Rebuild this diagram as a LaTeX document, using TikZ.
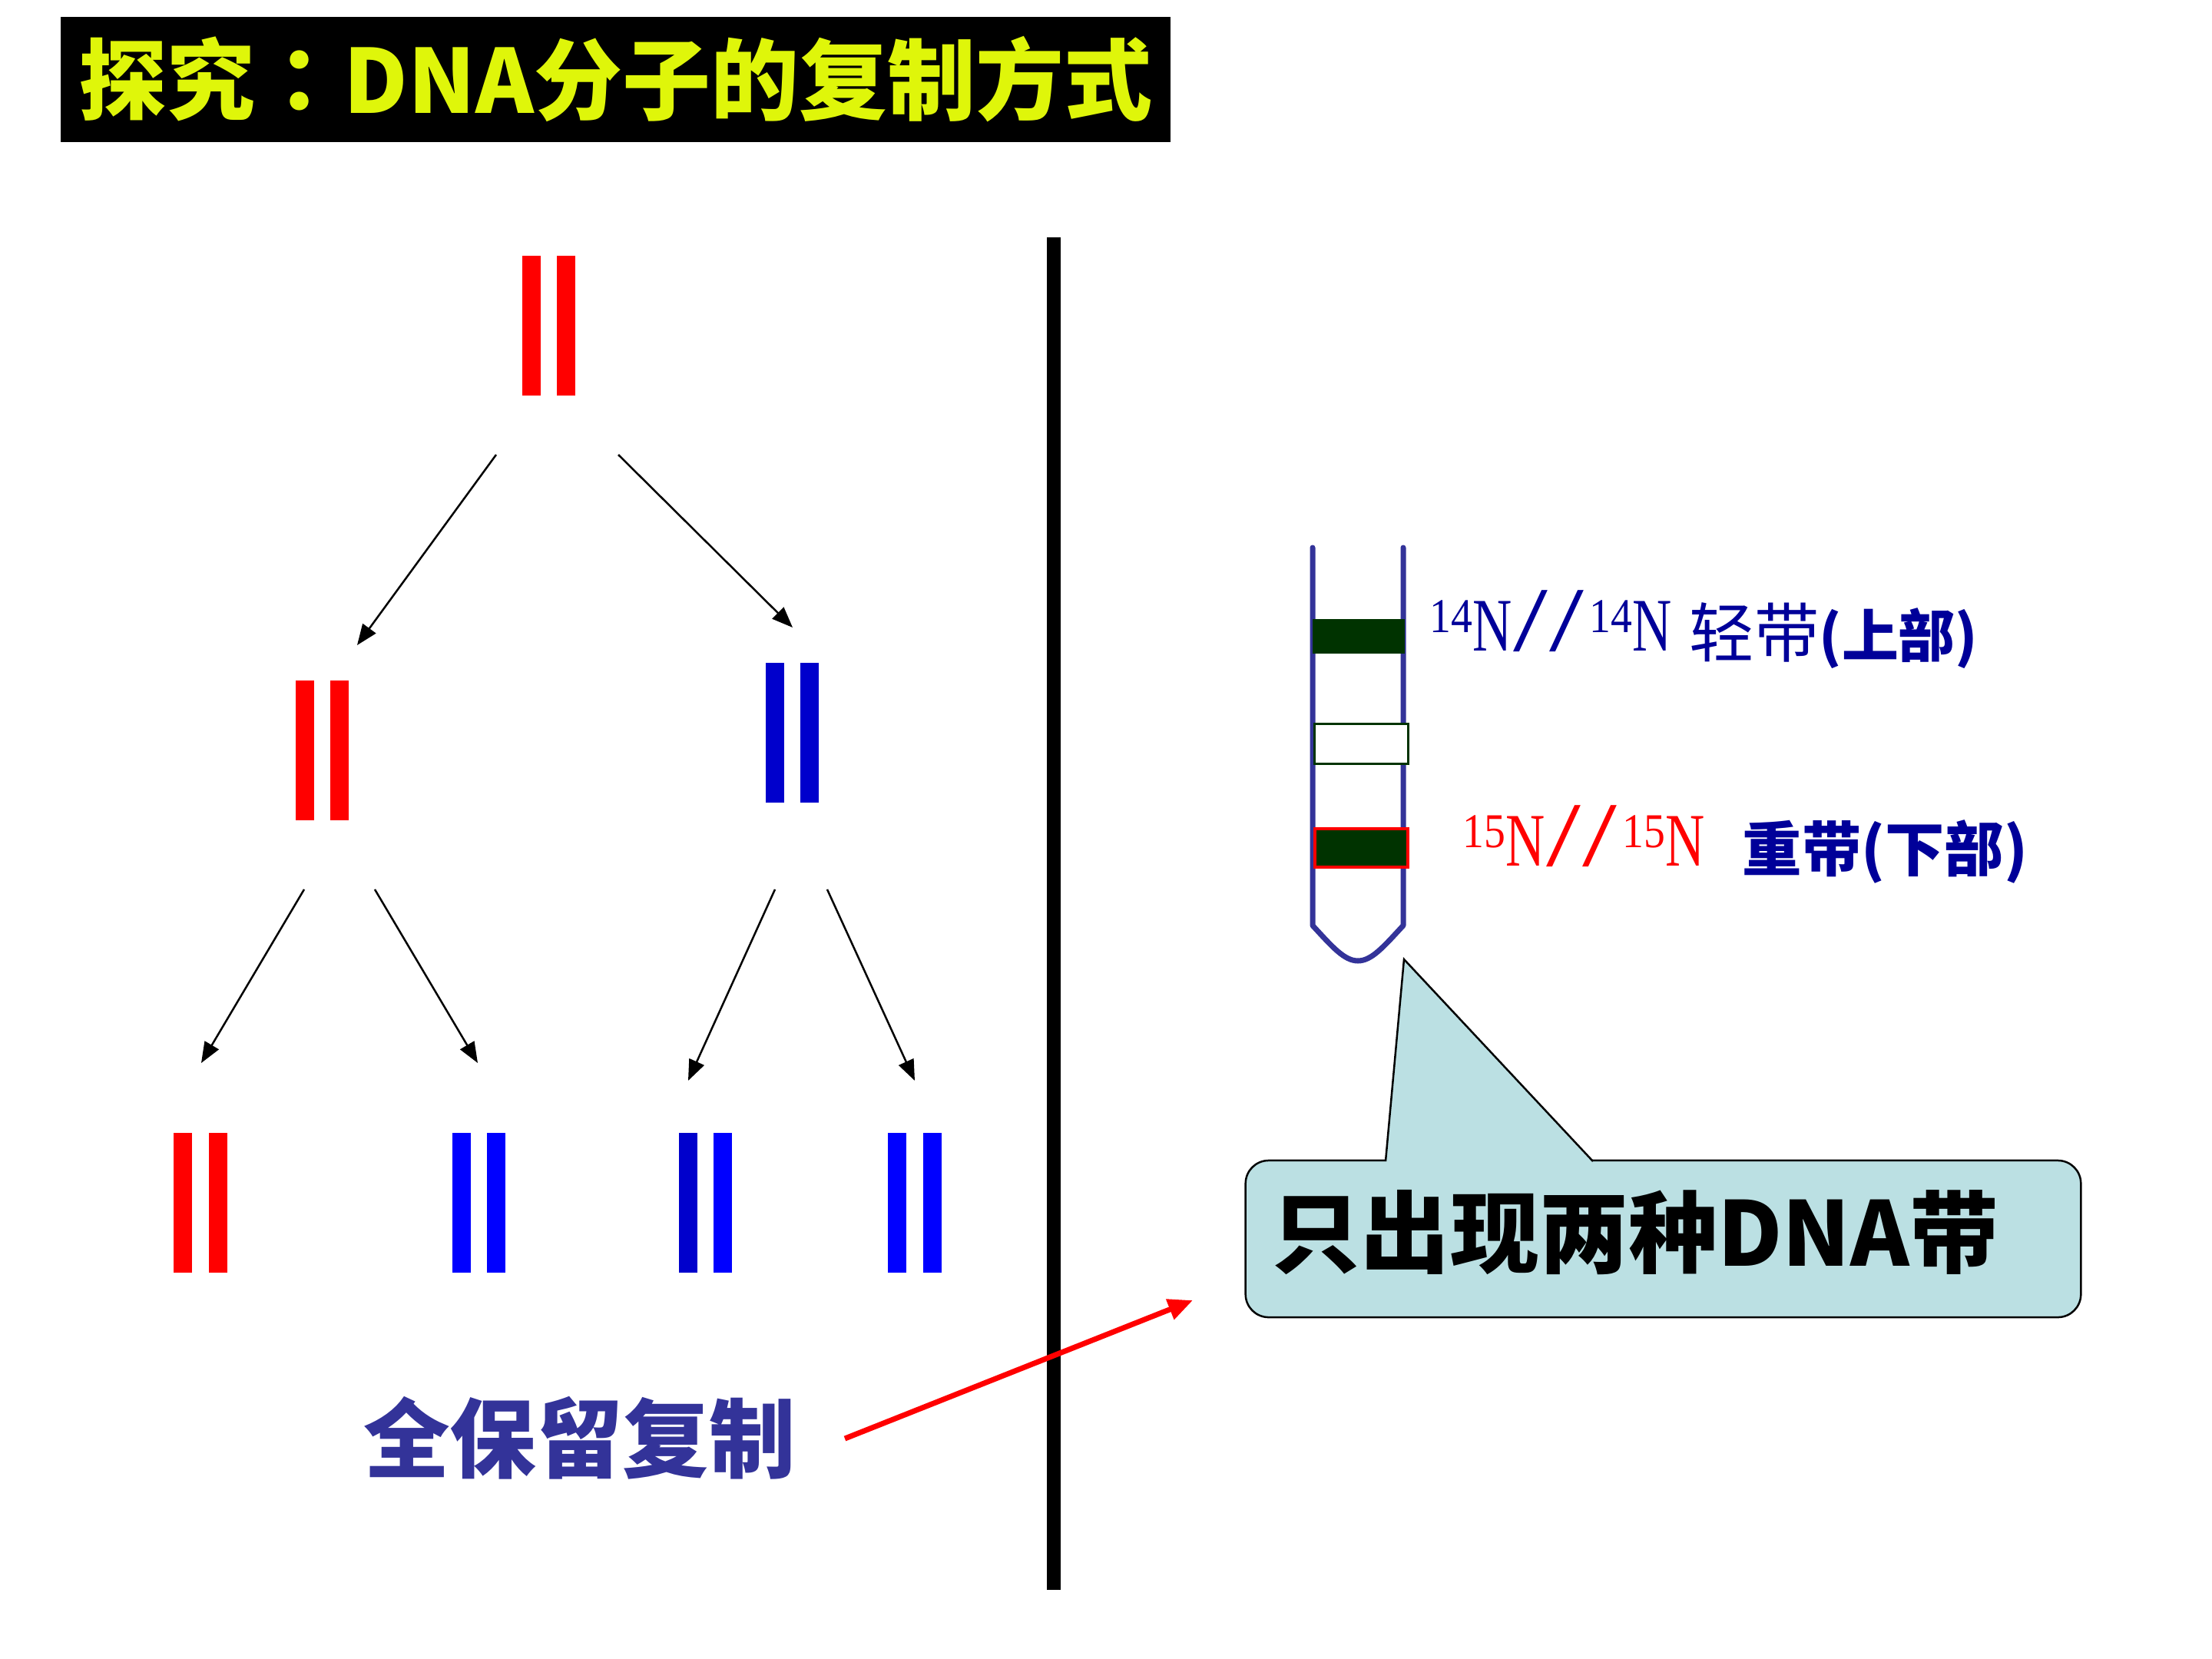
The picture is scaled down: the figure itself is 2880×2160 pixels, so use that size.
\documentclass[tikz,border=0pt]{standalone}
\usepackage{fontspec}
\usetikzlibrary{arrows.meta}
\newfontfamily\cjk{Noto Sans CJK SC}
\newfontfamily\cjktc{Noto Sans CJK TC}
\newfontfamily\tnr{Liberation Serif}[FakeStretch=0.72]
\newfontfamily\tnrsup{Liberation Serif}[FakeStretch=0.88]
\newfontfamily\tnrslash{Liberation Serif}[FakeStretch=1.35]
\definecolor{titleyellow}{HTML}{DFF60A}
\definecolor{navytext}{HTML}{000099}
\definecolor{tubeblue}{HTML}{333399}
\definecolor{bandgreen}{HTML}{003300}
\definecolor{calloutblue}{RGB}{187,224,227}
\definecolor{dnablue}{HTML}{0000FF}
\definecolor{dnablueb}{HTML}{0000CC}
\definecolor{dnared}{HTML}{FF0000}
\newcommand\iso[1]{\raisebox{6.8pt}{\tnrsup\fontsize{18}{18}\selectfont #1}}
\newcommand\slsh{{\tnrslash\fontsize{34}{34}\selectfont /}}
\newcommand\dnapair[5]{%
  \node[pairnode] (#1) at (#2,#3) {};
  \fill[#4] (#1.north west) rectangle ++(24,182);
  \fill[#5] (#1.north east) rectangle ++(-24,182);}
\tikzset{
  pairnode/.style={minimum width=0.69cm, minimum height=1.82cm, inner sep=0, outer sep=0},
  treearrow/.style={line width=0.025cm, -{Triangle[length=0.27cm, width=0.21cm]}},
  redarrow/.style={draw=dnared, line width=0.07cm, -{Triangle[length=0.32cm, width=0.27cm]}},
  tube/.style={draw=tubeblue, line width=0.07cm, line join=round, line cap=round},
  isolabel/.style={anchor=base west, inner sep=0, font=\tnr\fontsize{28}{30}\selectfont},
  cnlabel/.style={anchor=base west, inner sep=0, text=navytext, font=\cjk\fontsize{24}{26}\selectfont},
}
\begin{document}
\begin{tikzpicture}[x=0.01cm, y=-0.01cm]
\fill[white] (0,0) rectangle (2880,2160);
\path[use as bounding box] (0,0) rectangle (2880,2160);

% title
\node[fill=black, minimum width=14.45cm, minimum height=1.63cm, inner sep=0,
      text=titleyellow, font=\cjk\bfseries\fontsize{32.7}{36}\selectfont] (title) at (801.5,103.5) {探究{\cjktc\bfseries ：}DNA分子的复制方式};

% DNA pairs
\dnapair{p0}{714.5}{424}{dnared}{dnared}
\dnapair{p1}{419.5}{977}{dnared}{dnared}
\dnapair{p2}{1031.5}{954.5}{dnablueb}{dnablueb}
\dnapair{p3}{261}{1566.5}{dnared}{dnared}
\dnapair{p4}{623.5}{1566.5}{dnablue}{dnablue}
\dnapair{p5}{918.5}{1566.5}{dnablueb}{dnablue}
\dnapair{p6}{1191}{1566.5}{dnablue}{dnablue}

% arrow ends
\coordinate (a01s) at (646,592);  \coordinate (a01e) at (465,840);
\coordinate (a02s) at (805,592);  \coordinate (a02e) at (1032,817);
\coordinate (a13s) at (396,1158); \coordinate (a13e) at (262,1384);
\coordinate (a14s) at (488,1158); \coordinate (a14e) at (622,1384);
\coordinate (a25s) at (1009,1158);\coordinate (a25e) at (896,1407);
\coordinate (a26s) at (1077,1158);\coordinate (a26e) at (1191,1407);
\draw[treearrow] (a01s) -- (a01e);
\draw[treearrow] (a02s) -- (a02e);
\draw[treearrow] (a13s) -- (a13e);
\draw[treearrow] (a14s) -- (a14e);
\draw[treearrow] (a25s) -- (a25e);
\draw[treearrow] (a26s) -- (a26e);

% divider
\coordinate (divtop) at (1372,309);
\coordinate (divbot) at (1372,2070);
\draw[line width=0.18cm] (divtop) -- (divbot);

% mode label and red arrow
\node[inner sep=0, text=tubeblue, font=\cjk\bfseries\fontsize{32}{34}\selectfont] (mode) at (754.5,1872) {全保留复制};
\coordinate (ras) at (1100,1873);
\coordinate (rae) at (1553,1693);
\draw[redarrow] (ras) -- (rae);

% tube
\draw[tube] (1709,713) -- (1709,1205)
  .. controls (1734,1232) and (1750,1251) .. (1768,1251)
  .. controls (1786,1251) and (1802,1232) .. (1827,1205) -- (1827,713);
\node[fill=bandgreen, minimum width=1.20cm, minimum height=0.45cm, inner sep=0] (band1) at (1769,828.5) {};
\node[draw=bandgreen, fill=white, line width=0.03cm, minimum width=1.21cm, minimum height=0.51cm, inner sep=0] (band2) at (1772.5,968.5) {};
\node[draw=dnared, fill=bandgreen, line width=0.035cm, minimum width=1.21cm, minimum height=0.50cm, inner sep=0] (band3) at (1772.5,1104) {};

% labels
\node[isolabel, text=navytext] (iso14) at (1861,847) {\iso{14}N\kern0.5pt\slsh\kern0.8pt\slsh\kern2pt\iso{14}N};
\node[cnlabel] (light) at (2199,855) {轻带{\bfseries\fontsize{21}{26}\selectfont(上部)}};
\node[isolabel, text=dnared] (iso15) at (1904,1127) {\iso{15}N\kern0.5pt\slsh\kern0.8pt\slsh\kern2pt\iso{15}N};
\node[cnlabel, font=\cjk\bfseries\fontsize{22}{26}\selectfont] (heavy) at (2268,1134) {重带(下部)};

% callout
\node[draw=black, line width=0.025cm, fill=calloutblue, rounded corners=0.3cm,
      minimum width=10.87cm, minimum height=2.04cm, inner sep=0] (callout) at (2165.5,1613) {};
\coordinate (tipL) at (1804,1514);
\coordinate (tip) at (1828,1249);
\coordinate (tipR) at (2074,1514);
\fill[calloutblue] (tipL) -- (tip) -- (tipR) -- cycle;
\draw[line width=0.025cm, line join=miter] (1804,1512) -- (tip) -- (2074,1512);
\node[inner sep=0, font=\cjk\bfseries\fontsize{33}{36}\selectfont] (ctext) at (2129,1605) {只出现两种DNA带};
\end{tikzpicture}
\end{document}
